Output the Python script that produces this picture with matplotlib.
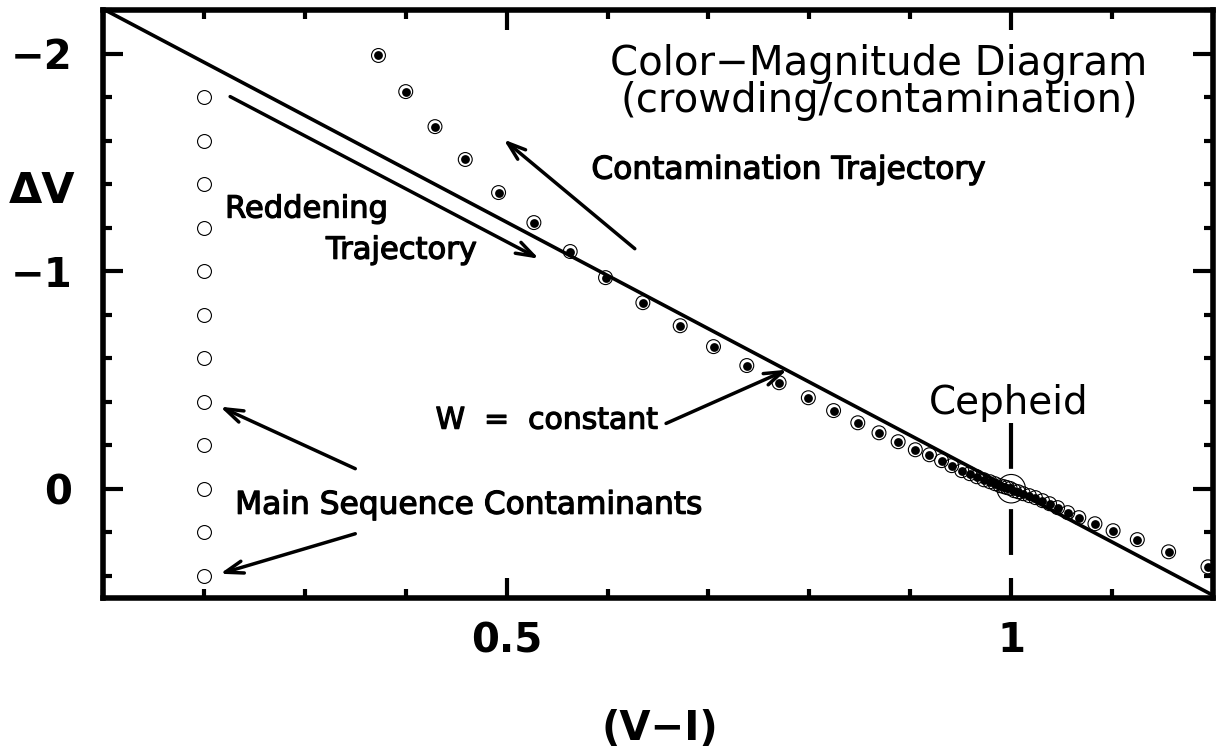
import matplotlib
matplotlib.use("Agg")
import matplotlib.pyplot as plt
import matplotlib.patheffects as pe
from matplotlib.patches import FancyArrowPatch
from matplotlib.ticker import FixedLocator, MultipleLocator, FuncFormatter
import numpy as np

plt.rcParams['font.family'] = ['DejaVu Sans']
plt.rcParams['lines.scale_dashes'] = False

# main sequence contaminants (V-I, dV)
ms_x = [0.2] * 12
ms_y = [-1.8, -1.6, -1.4, -1.2, -1.0, -0.8, -0.6, -0.4, -0.2, 0.0, 0.2, 0.4]

# contamination trajectory (Cepheid + contaminant)
traj_x = [0.373, 0.400, 0.429, 0.459, 0.492, 0.527, 0.563, 0.598, 0.635, 0.672,
          0.705, 0.738, 0.770, 0.799, 0.824, 0.848, 0.869, 0.888, 0.905, 0.919,
          0.931, 0.941, 0.951, 0.959, 0.966, 0.973, 0.979, 0.984, 0.989, 0.993,
          0.996, 0.999, 1.003, 1.007, 1.012, 1.018, 1.024, 1.031, 1.038, 1.046,
          1.056, 1.067, 1.083, 1.101, 1.125, 1.156, 1.195]
traj_y = [-1.991, -1.825, -1.664, -1.513, -1.361, -1.223, -1.090, -0.970, -0.855, -0.749,
          -0.653, -0.566, -0.487, -0.418, -0.359, -0.303, -0.257, -0.216, -0.179, -0.156,
          -0.129, -0.106, -0.083, -0.069, -0.055, -0.041, -0.032, -0.023, -0.014, -0.009,
          -0.005, -0.001, 0.009, 0.014, 0.023, 0.032, 0.041, 0.055, 0.069, 0.087,
          0.110, 0.133, 0.161, 0.193, 0.234, 0.290, 0.359]

cepheid_x = [1.0]
cepheid_y = [0.0]

# W = V - R (V-I) = constant through the Cepheid
R_W = 2.45
w_x = np.array([0.1, 1.2])
w_y = R_W * (w_x - 1.0)

# arrows: (tail, tip)
arrows = [
    ((0.226, -1.802), (0.532, -1.057)),   # reddening
    ((0.627, -1.103), (0.497, -1.605)),   # contamination
    ((0.658, -0.300), (0.778, -0.547)),   # W = constant
    ((0.350, -0.092), (0.216, -0.377)),   # MS upper
    ((0.350, 0.207), (0.216, 0.391)),     # MS lower
]

W, H = 1216, 754
fig = plt.figure(figsize=(W / 100, H / 100), dpi=100)
ax = fig.add_axes([103 / W, 1 - 597.5 / H, 1110 / W, 587.5 / H])

ax.set_xlim(0.1, 1.2)
ax.set_ylim(0.5, -2.2)

ax.plot(w_x, w_y, color='black', lw=2.6, solid_capstyle='round')

ax.scatter(ms_x, ms_y, s=100, facecolor='white', edgecolor='black', linewidth=0.8, zorder=3)
ax.scatter(traj_x, traj_y, s=100, facecolor='none', edgecolor='black', linewidth=0.8, zorder=3)
ax.scatter(traj_x, traj_y, s=40, color='black', linewidth=0, zorder=4)
ax.scatter(cepheid_x, cepheid_y, s=420, facecolor='none', edgecolor='black', linewidth=0.8, zorder=5)

ax.plot([1.0, 1.0], [-0.303, 0.317], color='black', lw=3, dashes=(33, 29))

for (x0, y0), (x1, y1) in arrows:
    a = FancyArrowPatch((x0, y0), (x1, y1), arrowstyle='->,head_length=0.65,head_width=0.22',
                        mutation_scale=20, lw=2.5, color='black', shrinkA=0, shrinkB=0,
                        capstyle='round', joinstyle='round')
    ax.add_patch(a)

med = [pe.withStroke(linewidth=0.9, foreground='black')]
ax.text(0.869, -1.903, 'Color\u2212Magnitude Diagram', fontsize=29, ha='center', va='baseline')
ax.text(0.869, -1.729, '(crowding/contamination)', fontsize=29, ha='center', va='baseline')
ax.text(0.584, -1.425, 'Contamination Trajectory', fontsize=22.5, ha='left', va='baseline', path_effects=med)
ax.text(0.221, -1.246, 'Reddening', fontsize=22, ha='left', va='baseline', path_effects=med)
ax.text(0.321, -1.057, 'Trajectory', fontsize=22, ha='left', va='baseline', path_effects=med)
ax.text(0.4296, -0.276, 'W  =  constant', fontsize=21.5, ha='left', va='baseline', path_effects=med)
ax.text(0.231, 0.115, 'Main Sequence Contaminants', fontsize=22.5, ha='left', va='baseline', path_effects=med)
ax.text(0.998, -0.345, 'Cepheid', fontsize=28, ha='center', va='baseline')

fig.text(42 / W, 1 - 203 / H, '\u0394V', fontsize=31, fontweight='bold', ha='center', va='baseline')
fig.text(660 / W, 1 - 740 / H, '(V\u2212I)', fontsize=29, fontweight='bold', ha='center', va='baseline')

ax.xaxis.set_major_locator(FixedLocator([0.5, 1.0]))
ax.xaxis.set_minor_locator(MultipleLocator(0.1))
ax.yaxis.set_major_locator(FixedLocator([-2, -1, 0]))
ax.yaxis.set_minor_locator(MultipleLocator(0.2))
fmt = FuncFormatter(lambda v, p: ('%g' % v).replace('-', '\u2212'))
ax.xaxis.set_major_formatter(fmt)
ax.yaxis.set_major_formatter(fmt)

ax.tick_params(which='both', direction='in', top=True, right=True, width=3)
ax.tick_params(which='major', length=14.5, labelsize=29)
ax.tick_params(which='minor', length=6.5)
ax.tick_params(axis='x', which='major', pad=17)
ax.tick_params(axis='y', which='major', pad=22)
for lab in ax.get_xticklabels() + ax.get_yticklabels():
    lab.set_fontweight('bold')

for s in ax.spines.values():
    s.set_linewidth(4)

fig.savefig('out.png', dpi=100)
